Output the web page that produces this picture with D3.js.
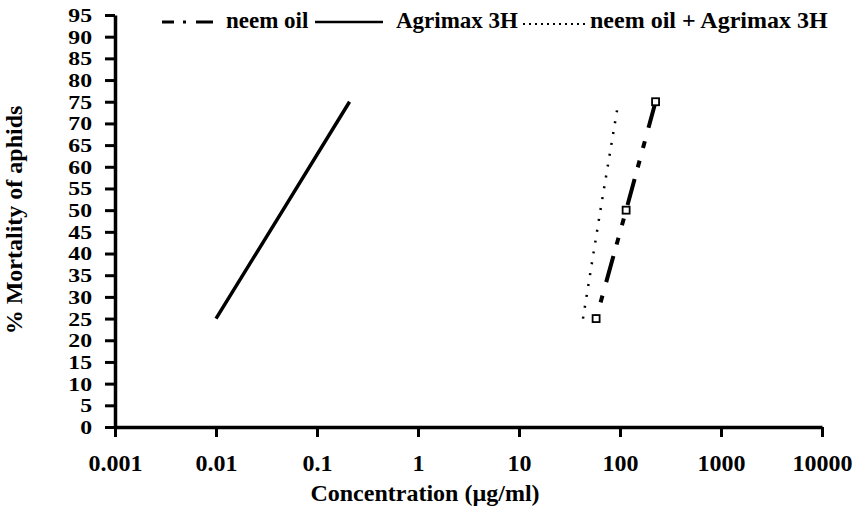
<!DOCTYPE html>
<html>
<head>
<meta charset="utf-8">
<script src="https://cdn.jsdelivr.net/npm/d3@7"></script>
<style>
  body { margin: 0; background: #fff; }
  svg text { font-family: "Liberation Serif", "DejaVu Serif", serif; font-weight: bold; fill: #000; }
</style>
</head>
<body>
<div id="chart"></div>
<script>
var width = 863;
var height = 508;

// values (% mortality at each concentration)
var mortality = [25, 50, 75];
var neemConc = [58, 115, 225];
var agrimaxConc = [0.01, 0.046, 0.21];
var mixConc = [43, 64, 95];
var mixMortality = [25, 50, 74];

var xTicks = [0.001, 0.01, 0.1, 1, 10, 100, 1000, 10000];
var xTickLabels = ["0.001", "0.01", "0.1", "1", "10", "100", "1000", "10000"];
var yTicks = d3.range(0, 96, 5);

var legendLabels = ["neem oil", "Agrimax 3H", "neem oil + Agrimax 3H"];

function pairs(xs, ys) {
  return xs.map(function (x, i) { return { conc: x, mort: ys[i] }; });
}

var neemData = pairs(neemConc, mortality);
var agrimaxData = pairs(agrimaxConc, mortality);
var mixData = pairs(mixConc, mixMortality);

// scales
var xScale = d3.scaleLog().domain([0.001, 10000]).range([115, 822]);
var yScale = d3.scaleLinear().domain([0, 95]).range([427, 15]);

var svg = d3.select("#chart")
  .append("svg")
  .attr("width", width)
  .attr("height", height);

var line = d3.line()
  .x(function (d) { return xScale(d.conc); })
  .y(function (d) { return yScale(d.mort); });

// axes
var yStretch = 1.25; // tick digits in the scan are wide and short

var xAxis = d3.axisBottom(xScale)
  .tickValues(xTicks)
  .tickFormat(function (d, i) { return xTickLabels[i]; })
  .tickSize(10)
  .tickSizeOuter(0)
  .tickPadding(20);

var yAxis = d3.axisLeft(yScale)
  .tickValues(yTicks)
  .tickSize(10)
  .tickSizeOuter(0)
  .tickPadding(23 / yStretch - 10);

var gx = svg.append("g")
  .attr("transform", "translate(0," + yScale(0) + ")")
  .call(xAxis);

var gy = svg.append("g")
  .attr("transform", "translate(" + xScale(0.001) + ",0)")
  .call(yAxis);

[gx, gy].forEach(function (g) {
  g.attr("font-family", null);
  g.select(".domain").attr("stroke", "#000").attr("stroke-width", 3.5);
  g.selectAll(".tick line").attr("stroke", "#000").attr("stroke-width", 3);
  g.selectAll(".tick text").attr("fill", "#000");
});
gx.selectAll(".tick text").attr("font-size", "24px").attr("dy", "0.6em");
gy.selectAll(".tick text")
  .attr("font-size", "19px")
  .attr("dy", "0.34em")
  .attr("transform", "scale(" + yStretch + ",1)");

// axis titles
svg.append("text")
  .attr("x", 425)
  .attr("y", 501)
  .attr("text-anchor", "middle")
  .attr("font-size", "24px")
  .text("Concentration (\u00b5g/ml)");

svg.append("text")
  .attr("transform", "translate(22,220) rotate(-90)")
  .attr("text-anchor", "middle")
  .attr("font-size", "24px")
  .text("% Mortality of aphids");

// series
svg.append("path")
  .datum(agrimaxData)
  .attr("d", line)
  .attr("fill", "none")
  .attr("stroke", "#000")
  .attr("stroke-width", 3.5);

svg.append("path")
  .datum(mixData)
  .attr("d", line)
  .attr("fill", "none")
  .attr("stroke", "#000")
  .attr("stroke-width", 2.5)
  .attr("stroke-dasharray", "2,9");

svg.append("path")
  .datum(neemData.slice().reverse())
  .attr("d", line)
  .attr("fill", "none")
  .attr("stroke", "#000")
  .attr("stroke-width", 4)
  .attr("stroke-dasharray", "27,14,7,13,7,12");

svg.selectAll("rect.marker")
  .data(neemData)
  .enter()
  .append("rect")
  .attr("class", "marker")
  .attr("x", function (d) { return xScale(d.conc) - 3.5; })
  .attr("y", function (d) { return yScale(d.mort) - 3.5; })
  .attr("width", 7)
  .attr("height", 7)
  .attr("fill", "#fff")
  .attr("stroke", "#000")
  .attr("stroke-width", 1.8);

// legend
var legend = svg.append("g");
var legendY = 22;

legend.append("line")
  .attr("x1", 162).attr("x2", 213)
  .attr("y1", legendY).attr("y2", legendY)
  .attr("stroke", "#000")
  .attr("stroke-width", 3)
  .attr("stroke-dasharray", "12,9,3,10,17");

legend.append("line")
  .attr("x1", 315).attr("x2", 383)
  .attr("y1", legendY).attr("y2", legendY)
  .attr("stroke", "#000")
  .attr("stroke-width", 2.5);

legend.append("line")
  .attr("x1", 523).attr("x2", 585)
  .attr("y1", legendY + 2).attr("y2", legendY + 2)
  .attr("stroke", "#000")
  .attr("stroke-width", 2)
  .attr("stroke-dasharray", "2,4");

var legendX = [226, 396, 590];
legend.selectAll("text")
  .data(legendLabels)
  .enter()
  .append("text")
  .attr("x", function (d, i) { return legendX[i]; })
  .attr("y", 28)
  .attr("font-size", function (d, i) { return i === 2 ? "24px" : "23px"; })
  .text(function (d) { return d; });
</script>
</body>
</html>
